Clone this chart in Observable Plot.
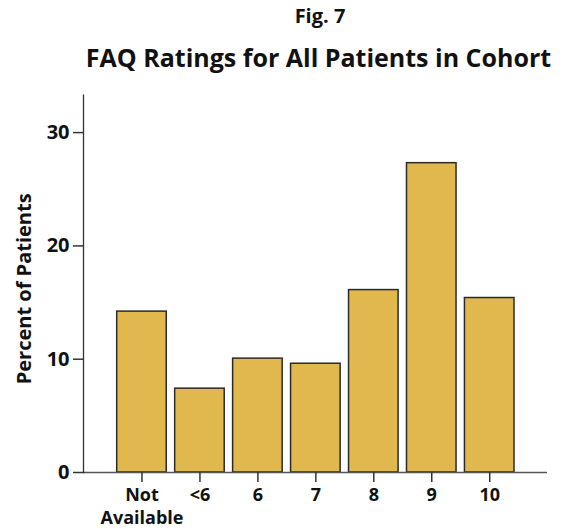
<!DOCTYPE html>
<html>
<head>
<meta charset="utf-8">
<script src="https://cdn.jsdelivr.net/npm/d3@7"></script>
<script src="https://cdn.jsdelivr.net/npm/@observablehq/plot@0.6"></script>
<style>
  html, body { margin: 0; padding: 0; background: #fff; }
  #wrap { width: 563px; height: 529px; position: relative; font-family: "Open Sans", "Noto Sans", sans-serif; color: #111; }
  #head { height: 85px; position: relative; }
  #fig { position: absolute; left: 0; width: 640px; top: 4px; text-align: center; font-weight: 700; font-size: 20px; line-height: 24px; }
  #title { position: absolute; left: 0; width: 637px; top: 41px; text-align: center; font-weight: 700; font-size: 25px; line-height: 32px; white-space: nowrap; }
  svg { display: block; }
</style>
</head>
<body>
<div id="wrap">
  <div id="head">
    <div id="fig">Fig. 7</div>
    <div id="title">FAQ Ratings for All Patients in Cohort</div>
  </div>
  <div id="chart"></div>
</div>
<script>
const categories = ["Not\nAvailable", "<6", "6", "7", "8", "9", "10"];
const percents = [14.2, 7.4, 10.05, 9.6, 16.1, 27.3, 15.4];
const yTicks = [0, 10, 20, 30];
const yLabel = "Percent of Patients";

const data = categories.map((c, i) => ({cat: c, value: percents[i]}));

const chart = Plot.plot({
  width: 563,
  height: 444,
  marginLeft: 83,
  marginRight: 16,
  marginTop: 9.7,
  marginBottom: 57,
  style: {fontFamily: '"Open Sans", "Noto Sans", sans-serif', fontSize: "20px", fontWeight: "700", color: "#111", background: "#fff"},
  x: {domain: categories, range: [112.5, 518.2], paddingInner: 0.145, paddingOuter: 0.0725, round: false, label: null},
  y: {domain: [0, 33.3], label: null},
  marks: [
    Plot.barY(data, {x: "cat", y: "value", fill: "#E0B84E", stroke: "#2a2a2a", strokeWidth: 1.5}),
    Plot.ruleY([0], {stroke: "#555", strokeWidth: 1.5}),
    Plot.frame({anchor: "left", stroke: "#333", strokeWidth: 1.3}),
    Plot.axisY({ticks: yTicks, tickSize: 10, tickPadding: 4, stroke: "#333", strokeWidth: 1.5, label: null}),
    Plot.text([yLabel], {frameAnchor: "left", textAnchor: "middle", rotate: -90, dx: -59, dy: 5, fontSize: 20, fontWeight: "700", fill: "#111"}),
    Plot.axisX({tickSize: 10, tickPadding: 3, fontSize: 18, lineHeight: 1.25, stroke: "#333", strokeWidth: 1.5, label: null})
  ]
});
document.getElementById("chart").appendChild(chart);
</script>
</body>
</html>
